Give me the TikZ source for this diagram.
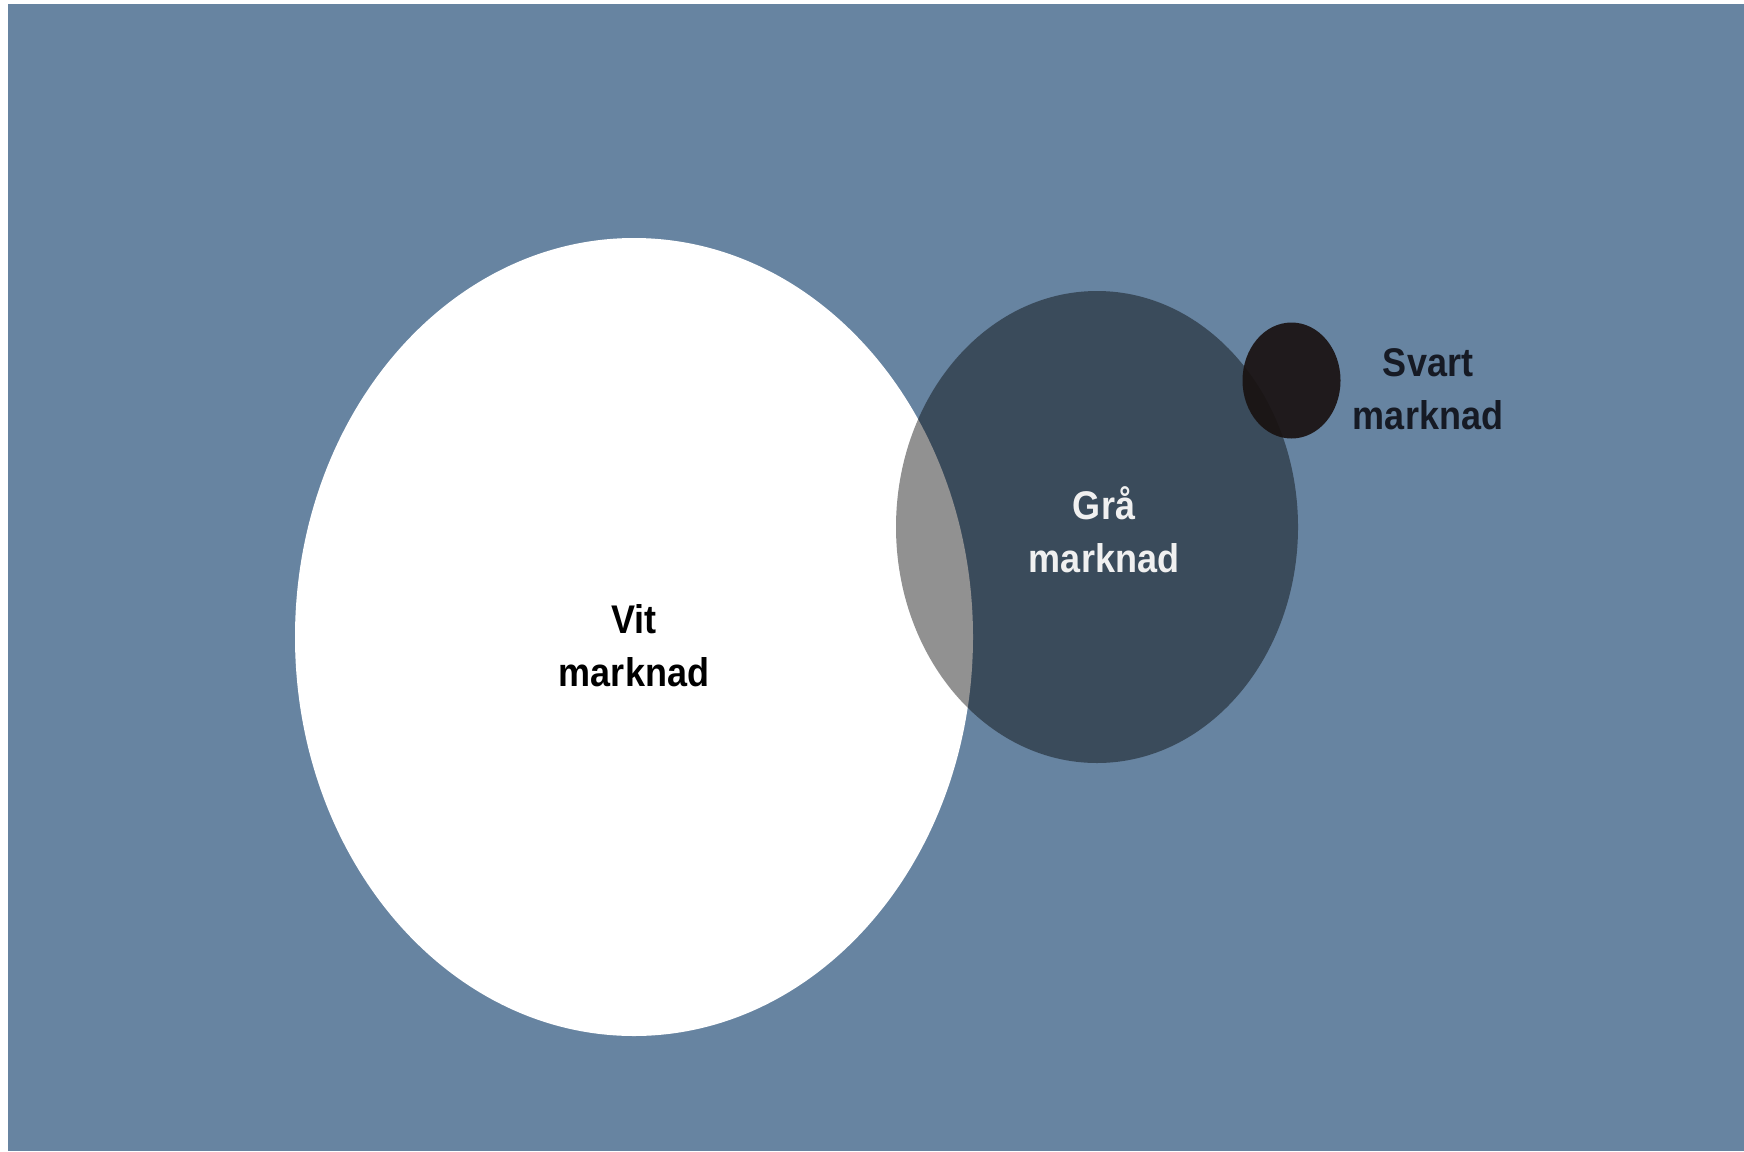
\documentclass[tikz,border=0pt]{standalone}
\usepackage{fontspec}
\setmainfont{Liberation Sans}[FakeStretch=0.9]
\definecolor{bgblue}{RGB}{103,132,161}
\definecolor{svarttext}{RGB}{22,26,36}
\definecolor{gratext}{RGB}{240,240,240}
\definecolor{svartfill}{RGB}{25,18,17}
\tikzset{
  lbl/.style={font=\fontsize{40}{53}\selectfont\bfseries, align=center, inner sep=0pt},
}
\begin{document}
\begin{tikzpicture}[x=1pt,y=-1pt]
\useasboundingbox (0,0) rectangle (1744,1151);
\fill[white] (0,0) rectangle (1744,1151);
\fill[bgblue] (8,4) rectangle (1744,1151);
% white market
\fill[white] (634,637) ellipse [x radius=339, y radius=399];
% grey market (translucent)
\fill[black, fill opacity=0.43] (1097,527) ellipse [x radius=201, y radius=236];
% black market
\fill[svartfill, fill opacity=0.92] (1291.5,380.5) ellipse [x radius=49, y radius=58];
% labels
\node[lbl, text=black] (vit) at (634,646) {Vit\\marknad};
\node[lbl, text=gratext] (gra) at (1104,530) {Grå\\marknad};
\node[lbl, text=svarttext] (svart) at (1428,389.5) {Svart\\marknad};
\end{tikzpicture}
\end{document}
